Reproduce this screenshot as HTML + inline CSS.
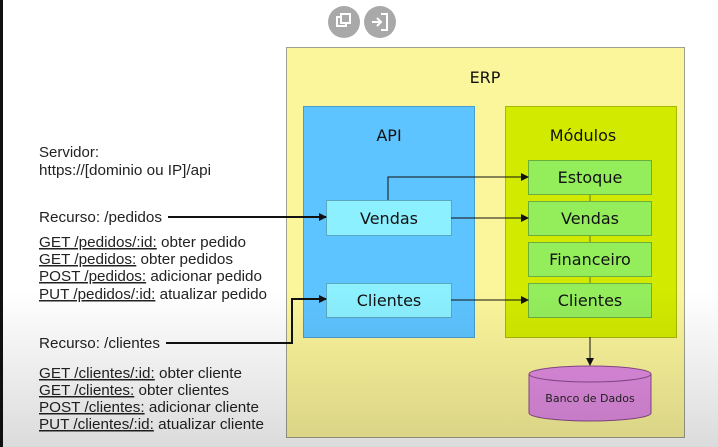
<!DOCTYPE html>
<html><head><meta charset="utf-8"><style>
html,body{margin:0;padding:0;width:718px;height:447px;overflow:hidden;background:#fff}
svg{display:block}
text{font-family:"Liberation Sans","DejaVu Sans",sans-serif}
.d{font-family:"DejaVu Sans","Liberation Sans",sans-serif}
</style></head><body>
<svg width="718" height="447" viewBox="0 0 718 447" xmlns="http://www.w3.org/2000/svg">
<defs>
<linearGradient id="sh" x1="0" y1="0" x2="0" y2="1">
<stop offset="0" stop-color="#000" stop-opacity="0"/>
<stop offset="1" stop-color="#000" stop-opacity="0.14"/>
</linearGradient>
<marker id="ah" markerWidth="8" markerHeight="8" refX="7" refY="4" orient="auto" markerUnits="userSpaceOnUse">
<path d="M0,0 L8,4 L0,8 Z" fill="#111"/>
</marker>
</defs>
<rect x="0" y="0" width="718" height="447" fill="#fff"/>
<rect x="0" y="0" width="3" height="447" fill="#111"/>
<circle cx="344" cy="22" r="16" fill="#a9a9a9"/>
<circle cx="380" cy="22" r="16" fill="#a9a9a9"/>
<rect x="337" y="17" width="9" height="9" fill="none" stroke="#fff" stroke-width="2"/>
<rect x="341" y="14" width="9" height="9" fill="#a9a9a9" stroke="#fff" stroke-width="2"/>
<path d="M381,14 h6 v16 h-6 M372,22 h9 M377,18 l4,4 l-4,4" fill="none" stroke="#fff" stroke-width="2"/>

<rect x="286.5" y="47.5" width="398" height="390" fill="#fbf59b" stroke="#a0a090" stroke-width="1"/>
<text class="d" x="485" y="83" font-size="16" text-anchor="middle" fill="#111">ERP</text>
<rect x="303.5" y="106.5" width="171" height="231" fill="#5ec4ff" stroke="#4a9ccc"/>
<text class="d" x="389" y="141" font-size="16" text-anchor="middle" fill="#111">API</text>
<rect x="505.5" y="106.5" width="171" height="231" fill="#d2ea00" stroke="#a8b800"/>
<text class="d" x="583" y="141" font-size="16" text-anchor="middle" fill="#111">Módulos</text>

<rect x="326.5" y="200.5" width="125" height="35" fill="#8cf0ff" stroke="#5aa8c0"/>
<text class="d" x="389" y="224" font-size="16" text-anchor="middle" fill="#111">Vendas</text>
<rect x="326.5" y="283.5" width="125" height="34" fill="#8cf0ff" stroke="#5aa8c0"/>
<text class="d" x="389" y="306" font-size="16" text-anchor="middle" fill="#111">Clientes</text>

<line x1="590" y1="194" x2="590" y2="283" stroke="#5a7a30" stroke-width="1"/>
<rect x="528.5" y="160.5" width="123" height="34" fill="#94ee5c" stroke="#6aae3c"/>
<text class="d" x="590" y="183" font-size="16" text-anchor="middle" fill="#111">Estoque</text>
<rect x="528.5" y="201.5" width="123" height="34" fill="#94ee5c" stroke="#6aae3c"/>
<text class="d" x="590" y="224" font-size="16" text-anchor="middle" fill="#111">Vendas</text>
<rect x="528.5" y="242.5" width="123" height="34" fill="#94ee5c" stroke="#6aae3c"/>
<text class="d" x="590" y="265" font-size="16" text-anchor="middle" fill="#111">Financeiro</text>
<rect x="528.5" y="283.5" width="123" height="34" fill="#94ee5c" stroke="#6aae3c"/>
<text class="d" x="590" y="306" font-size="16" text-anchor="middle" fill="#111">Clientes</text>

<path d="M388,200 V177 H528" fill="none" stroke="#111" stroke-width="1" marker-end="url(#ah)"/>
<path d="M451,218 H528" fill="none" stroke="#111" stroke-width="1" marker-end="url(#ah)"/>
<path d="M451,300 H528" fill="none" stroke="#111" stroke-width="1" marker-end="url(#ah)"/>
<path d="M590,337 V365" fill="none" stroke="#111" stroke-width="1" marker-end="url(#ah)"/>
<path d="M168,217 H326" fill="none" stroke="#111" stroke-width="2" marker-end="url(#ah)"/>
<path d="M166,343 H292 V299 H326" fill="none" stroke="#111" stroke-width="2" marker-end="url(#ah)"/>

<path d="M529,374 V413 A61,8 0 0 0 651,413 V374" fill="#e08ce0" stroke="#8a4a8a"/>
<ellipse cx="590" cy="374" rx="61" ry="8" fill="#e08ce0" stroke="#8a4a8a"/>
<text class="d" x="590" y="402" font-size="11" text-anchor="middle" fill="#222">Banco de Dados</text>

<g font-size="15" fill="#222">
<text x="39" y="157" textLength="60" lengthAdjust="spacingAndGlyphs">Servidor:</text>
<text x="39" y="175" textLength="172" lengthAdjust="spacingAndGlyphs">https://[dominio ou IP]/api</text>
<text x="39" y="222" textLength="123" lengthAdjust="spacingAndGlyphs">Recurso: /pedidos</text>
<text x="39" y="247" textLength="207" lengthAdjust="spacingAndGlyphs"><tspan text-decoration="underline">GET /pedidos/:id:</tspan> obter pedido</text>
<text x="39" y="264" textLength="194" lengthAdjust="spacingAndGlyphs"><tspan text-decoration="underline">GET /pedidos:</tspan> obter pedidos</text>
<text x="39" y="281" textLength="223" lengthAdjust="spacingAndGlyphs"><tspan text-decoration="underline">POST /pedidos:</tspan> adicionar pedido</text>
<text x="39" y="299" textLength="228" lengthAdjust="spacingAndGlyphs"><tspan text-decoration="underline">PUT /pedidos/:id:</tspan> atualizar pedido</text>
<text x="39" y="348" textLength="121" lengthAdjust="spacingAndGlyphs">Recurso: /clientes</text>
<text x="39" y="378" textLength="203" lengthAdjust="spacingAndGlyphs"><tspan text-decoration="underline">GET /clientes/:id:</tspan> obter cliente</text>
<text x="39" y="395" textLength="190" lengthAdjust="spacingAndGlyphs"><tspan text-decoration="underline">GET /clientes:</tspan> obter clientes</text>
<text x="39" y="412" textLength="220" lengthAdjust="spacingAndGlyphs"><tspan text-decoration="underline">POST /clientes:</tspan> adicionar cliente</text>
<text x="39" y="429" textLength="225" lengthAdjust="spacingAndGlyphs"><tspan text-decoration="underline">PUT /clientes/:id:</tspan> atualizar cliente</text>
</g>
<rect x="0" y="290" width="718" height="157" fill="url(#sh)"/>
</svg>
</body></html>
